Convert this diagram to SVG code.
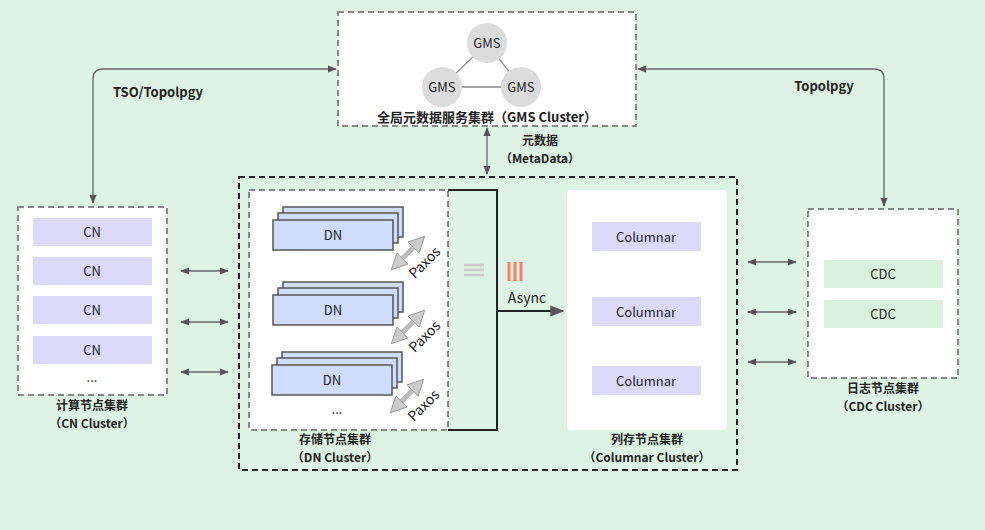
<svg xmlns="http://www.w3.org/2000/svg" width="985" height="530" viewBox="0 0 985 530">
<defs>
<style>
text{font-family:"Noto Sans CJK SC","Noto Sans",sans-serif;fill:#222;text-anchor:middle}
.b{font-weight:bold;font-size:13px}
.l{font-weight:bold;font-size:12px}
.n{font-size:13px}
.p{font-size:14px}
.box{fill:#fff;stroke:#888;stroke-width:2;stroke-dasharray:6 4}
.cn{fill:#dcd9fb}
.dn{fill:#cfdcfb;stroke:#555;stroke-width:1.5}
.cdc{fill:#d9f2de}
.ln{fill:none;stroke:#666;stroke-width:1.3}
.px{stroke:#bbb;stroke-width:5;marker-start:url(#pa);marker-end:url(#pa)}
</style>
<marker id="a" viewBox="0 0 10 10" refX="9" refY="5" markerWidth="7" markerHeight="7" orient="auto-start-reverse"><path d="M0 1L10 5L0 9z" fill="#555"/></marker>
<marker id="pa" viewBox="0 0 10 10" refX="5" refY="5" markerWidth="3.2" markerHeight="3.2" orient="auto-start-reverse"><path d="M0 0L10 5L0 10z" fill="#ccc" stroke="#999" stroke-width="0.6"/></marker>
</defs>
<rect width="985" height="530" fill="#dff3e4"/>
<g id="connectors">
<path class="ln" d="M336 69H103Q93 69 93 79V203" marker-start="url(#a)" marker-end="url(#a)"/>
<path class="ln" d="M638 69H874Q884 69 884 79V206" marker-start="url(#a)" marker-end="url(#a)"/>
<path class="ln" d="M487 128V174" marker-start="url(#a)" marker-end="url(#a)"/>
<path class="ln" d="M181 271H228" marker-start="url(#a)" marker-end="url(#a)"/>
<path class="ln" d="M181 322H228" marker-start="url(#a)" marker-end="url(#a)"/>
<path class="ln" d="M181 372H228" marker-start="url(#a)" marker-end="url(#a)"/>
<path class="ln" d="M748 262H796" marker-start="url(#a)" marker-end="url(#a)"/>
<path class="ln" d="M748 312H796" marker-start="url(#a)" marker-end="url(#a)"/>
<path class="ln" d="M748 362H796" marker-start="url(#a)" marker-end="url(#a)"/>
<path d="M497 311H563" stroke="#222" stroke-width="2" fill="none" marker-end="url(#a)"/>
<text class="b" x="158" y="97">TSO/Topolpgy</text>
<text class="b" x="824" y="91">Topolpgy</text>
<text class="l" x="540" y="145">元数据</text>
<text class="l" x="540" y="163">（MetaData）</text>
</g>
<g id="gms">
<rect class="box" x="338" y="12" width="298" height="114"/>
<path d="M487 43L442 87L521 87Z" fill="none" stroke="#888" stroke-width="1.3"/>
<circle cx="487" cy="43" r="20" fill="#dcdcdc"/><circle cx="442" cy="87" r="20" fill="#dcdcdc"/><circle cx="521" cy="87" r="20" fill="#dcdcdc"/>
<text class="n" x="487" y="48">GMS</text><text class="n" x="442" y="92">GMS</text><text class="n" x="521" y="92">GMS</text>
<text class="b" x="487" y="122">全局元数据服务集群（GMS Cluster）</text>
</g>
<g id="main">
<rect x="239" y="177" width="498" height="293" fill="none" stroke="#222" stroke-width="2" stroke-dasharray="6 4"/>
</g>
<g id="cn">
<rect class="box" x="18" y="207" width="149" height="188"/>
<rect class="cn" x="33" y="218" width="119" height="28"/><text class="n" x="92" y="237">CN</text>
<rect class="cn" x="33" y="257" width="119" height="28"/><text class="n" x="92" y="276">CN</text>
<rect class="cn" x="33" y="296" width="119" height="28"/><text class="n" x="92" y="315">CN</text>
<rect class="cn" x="33" y="336" width="119" height="28"/><text class="n" x="92" y="355">CN</text>
<text class="n" x="92" y="382">...</text>
<text class="l" x="92" y="410">计算节点集群</text><text class="l" x="92" y="428">（CN Cluster）</text>
</g>
<g id="dn">
<rect class="box" x="249" y="190" width="199" height="240"/>
<path d="M448 190H497V430H448" fill="none" stroke="#222" stroke-width="2"/>
<path d="M464 265H484M464 270H484M464 275H484" stroke="#ccc" stroke-width="2.5"/>
<path d="M509 262V281M515 262V281M521 262V281" stroke="#f4806a" stroke-width="3"/>
<text x="527" y="303" style="font-size:14px">Async</text>
<rect class="dn" x="283" y="207" width="120" height="30"/><rect class="dn" x="278" y="213" width="120" height="30"/><rect class="dn" x="273" y="220" width="120" height="30"/><text class="n" x="333" y="240">DN</text>
<rect class="dn" x="283" y="282" width="120" height="30"/><rect class="dn" x="278" y="288" width="120" height="30"/><rect class="dn" x="273" y="295" width="120" height="30"/><text class="n" x="333" y="315">DN</text>
<rect class="dn" x="282" y="352" width="120" height="30"/><rect class="dn" x="277" y="358" width="120" height="30"/><rect class="dn" x="272" y="365" width="120" height="30"/><text class="n" x="332" y="385">DN</text>
<text class="n" x="337" y="414">...</text>
<line class="px" x1="397" y1="264" x2="419" y2="242"/>
<line class="px" x1="397" y1="338" x2="419" y2="316"/>
<line class="px" x1="396" y1="407" x2="418" y2="385"/>
<text class="p" transform="translate(428,266) rotate(-45)">Paxos</text>
<text class="p" transform="translate(428,340) rotate(-45)">Paxos</text>
<text class="p" transform="translate(427,409) rotate(-45)">Paxos</text>
<text class="l" x="335" y="444">存储节点集群</text><text class="l" x="335" y="462">（DN Cluster）</text>
</g>
<g id="columnar">
<rect x="567" y="190" width="160" height="240" fill="#fff" rx="4"/>
<rect class="cn" x="592" y="222" width="109" height="29"/><text class="n" x="646" y="242">Columnar</text>
<rect class="cn" x="592" y="297" width="109" height="29"/><text class="n" x="646" y="317">Columnar</text>
<rect class="cn" x="592" y="366" width="109" height="29"/><text class="n" x="646" y="386">Columnar</text>
<text class="l" x="647" y="444">列存节点集群</text><text class="l" x="647" y="462">（Columnar Cluster）</text>
</g>
<g id="cdc">
<rect class="box" x="808" y="209" width="150" height="169"/>
<rect class="cdc" x="824" y="260" width="119" height="28"/><text class="n" x="883" y="279">CDC</text>
<rect class="cdc" x="824" y="300" width="119" height="28"/><text class="n" x="883" y="319">CDC</text>
<text class="l" x="883" y="393">日志节点集群</text><text class="l" x="883" y="411">（CDC Cluster）</text>
</g>
</svg>
